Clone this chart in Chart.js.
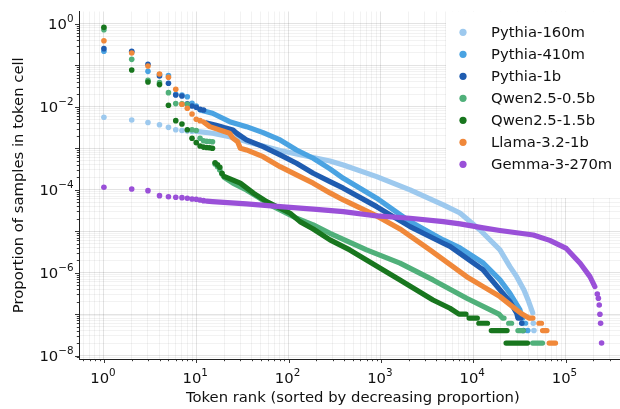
<!DOCTYPE html>
<html>
<head>
<meta charset="utf-8">
<script src="https://cdn.jsdelivr.net/npm/chart.js@4.4.1/dist/chart.umd.min.js"></script>
<style>
  html, body { margin: 0; padding: 0; background: #fff; overflow: hidden; }
  #wrap { width: 640px; height: 409px; }
</style>
</head>
<body>
<div id="wrap"><canvas id="rankChart" width="640" height="409"></canvas></div>
<script>
/* token rank vs. proportion, one series per model, log-log */
const models = ['Pythia-160m', 'Pythia-410m', 'Pythia-1b', 'Qwen2.5-0.5b', 'Qwen2.5-1.5b', 'Llama-3.2-1b', 'Gemma-3-270m'];
const colors = ['#9dc9ee', '#4aa3e2', '#1f5cb0', '#50b07a', '#18761e', '#f0883a', '#9a50d8'];

const xTitle = 'Token rank (sorted by decreasing proportion)';
const yTitle = 'Proportion of samples in token cell';
const xLabelDecades = [0, 1, 2, 3, 4, 5];
const yLabelDecades = [0, -2, -4, -6, -8];

// [rank, proportion]. *Dots are single markers, *Band is the dense stretch; null ends a run
const pythia160mDots = [[1, 0.0056], [2, 0.0048], [3, 0.0042], [4, 0.0037], [5, 0.0032], [6, 0.0028], [7, 0.0027], [8, 0.0026], [9, 0.00258], [44800, 6e-8], [45500, 4e-8]];
const pythia160mBand = [[10, 0.00255], [15, 0.00231], [23, 0.00191], [35, 0.00145], [53, 0.00114], [81, 0.000887], [122, 0.00073], [185, 0.0006], [281, 0.000495], [392, 0.000396], [901, 0.000207], [2070, 9.9e-5], [4740, 4.3e-5], [7190, 2.75e-5], [11850, 1.07e-5], [19500, 3.53e-6], [25000, 1.4e-6], [29600, 8.0e-7], [35500, 3.83e-7], [39300, 2.19e-7], [44150, 1.07e-7]];

const pythia410mDots = [[1, 0.219], [2, 0.21], [3, 0.072], [4, 0.06], [5, 0.0566], [6, 0.02], [7, 0.0194], [8, 0.0176], [9, 0.0122], [10, 0.0105], [39000, 4e-8]];
const pythia410mBand = [[11, 0.0084], [15, 0.007], [23, 0.0044], [35, 0.00333], [53, 0.00239], [81, 0.00159], [122, 0.000912], [185, 0.000575], [281, 0.000318], [392, 0.000189], [901, 6.24e-5], [2070, 1.7e-5], [4740, 6.15e-6], [7190, 3.94e-6], [12850, 1.71e-6], [19500, 6.67e-7], [25000, 3.18e-7], [32100, 1.26e-7], [33000, 1e-7], [34500, 8e-8], null, [35500, 6e-8], [37000, 6e-8]];

const pythia1bDots = [[1, 0.254], [2, 0.219], [3, 0.107], [4, 0.0557], [5, 0.037], [6, 0.0194], [7, 0.0183], [8, 0.0118], [9, 0.0105], [10, 0.0098], [11, 0.0087], [12, 0.0084], [33600, 6e-8], [35000, 4e-8]];
const pythia1bBand = [[13, 0.0041], [16, 0.00366], [20, 0.00316], [25, 0.00277], [27.4, 0.00231], [35, 0.00159], [53, 0.0011], [81, 0.000692], [122, 0.000436], [185, 0.00025], [281, 0.000157], [392, 0.000109], [901, 3.91e-5], [2070, 1.29e-5], [4740, 5.12e-6], [5600, 4.28e-6], [12850, 1.16e-6], [25000, 2.0e-7], [29600, 1.05e-7], [30500, 8e-8], [33000, 8e-8]];

const qwen05Dots = [[1, 0.73], [2, 0.14], [3, 0.044], [4, 0.0384], [5, 0.022], [6, 0.012], [7, 0.0118], [8, 0.0115], [9, 0.0028], [10, 0.0027], [11, 0.00175], [12, 0.00152], [13, 0.00148], [14, 0.00146], [15, 0.00144], [16, 0.00042], [17, 0.00036], [18, 0.0003], [19, 0.00024]];
const qwen05Band = [[20, 0.0002], [25, 0.000144], [35, 9.9e-5], [49, 6.24e-5], [63, 4.3e-5], [81, 3.26e-5], [122, 2.05e-5], [185, 1.42e-5], [281, 8.9e-6], [700, 3.53e-6], [1610, 1.69e-6], [3670, 6.67e-7], [8500, 2.41e-7], [15300, 1.26e-7], [19000, 1e-7], [20800, 8e-8], [21600, 8e-8], null, [24200, 6e-8], [26100, 6e-8], null, [30500, 4e-8], [35000, 4e-8], null, [44000, 2e-8], [56400, 2e-8]];

const qwen15Dots = [[1, 0.83], [2, 0.0776], [3, 0.0399], [4, 0.0344], [5, 0.0109], [6, 0.00465], [7, 0.00386], [8, 0.0028], [9, 0.00175], [10, 0.00137], [11, 0.00114], [12, 0.00107], [13, 0.00105], [14, 0.00103], [15, 0.001], [16, 0.00045], [17, 0.0004], [18, 0.00035], [19, 0.00025]];
const qwen15Band = [[20, 0.00021], [30, 0.000144], [42, 8.2e-5], [58, 5.16e-5], [81, 3.58e-5], [104, 2.71e-5], [133, 1.7e-5], [185, 1.13e-5], [281, 6.15e-6], [460, 3.53e-6], [1610, 6.67e-7], [3670, 2.19e-7], [5600, 1.38e-7], [7010, 1e-7], [8360, 1e-7], null, [9020, 8e-8], [11100, 8e-8], null, [11500, 6e-8], [14300, 6e-8], null, [15700, 4e-8], [23300, 4e-8], null, [22700, 2e-8], [38800, 2e-8]];

const llamaDots = [[1, 0.395], [2, 0.2], [3, 0.097], [4, 0.0622], [5, 0.0517], [6, 0.0266], [7, 0.0116], [8, 0.00925], [9, 0.00675], [10, 0.005], [11, 0.00465]];
const llamaBand = [[12, 0.00432], [14, 0.00333], [23, 0.00231], [25, 0.00175], [28, 0.00145], [30, 0.001], [35, 0.000912], [53, 0.000629], [81, 0.000361], [122, 0.000228], [185, 0.000144], [281, 8.4e-5], [392, 5.68e-5], [901, 2.33e-5], [1610, 1.13e-5], [3400, 3.53e-6], [8500, 8.0e-7], [12850, 4.6e-7], [19500, 2.64e-7], [29600, 1.26e-7], [33800, 1e-7], [40200, 8e-8], [44400, 8e-8], null, [51500, 6e-8], [55000, 6e-8], null, [56400, 4e-8], [63000, 4e-8], null, [66500, 2e-8], [78000, 2e-8]];

const gemmaDots = [[1, 1.15e-4], [2, 1.045e-4], [3, 9.5e-5], [4, 7.2e-5], [5, 6.8e-5], [6, 6.6e-5], [7, 6.45e-5], [8, 6.24e-5], [9, 6.0e-5], [10, 5.9e-5], [11, 5.68e-5], [12, 5.46e-5], [221000, 3.06e-7], [227000, 2.41e-7], [232000, 1.66e-7], [236000, 9.9e-8], [240000, 6e-8], [246000, 2e-8]];
const gemmaBand = [[13, 5.3e-5], [15, 5.16e-5], [35, 4.54e-5], [81, 3.91e-5], [185, 3.39e-5], [392, 2.96e-5], [901, 2.33e-5], [2070, 2.05e-5], [4740, 1.7e-5], [7190, 1.5e-5], [12850, 1.2e-5], [19500, 1.04e-5], [44800, 8.1e-6], [67500, 6.0e-6], [102000, 3.84e-6], [144000, 1.69e-6], [184000, 8.0e-7], [208000, 4.6e-7]];

const seriesDots = [pythia160mDots, pythia410mDots, pythia1bDots, qwen05Dots, qwen15Dots, llamaDots, gemmaDots];
const seriesBand = [pythia160mBand, pythia410mBand, pythia1bBand, qwen05Band, qwen15Band, llamaBand, gemmaBand];

const X_MIN = 0.537, X_MAX = 459000;
const Y_MIN = Math.pow(10, -8.084), Y_MAX = Math.pow(10, 0.301);
const FONT = 'DejaVu Sans';
const FS = 14.8;
const SUP_FS = FS * 0.7;

function toPoints(pairs) {
  const out = [];
  let lastX = 1;
  pairs.forEach(p => {
    if (p === null) { out.push({x: lastX, y: null}); return; }
    out.push({x: p[0], y: p[1]});
    lastX = p[0];
  });
  return out;
}

// 1..9 x 10^k ticks inside [lo, hi]
function logTicks(lo, hi) {
  const ticks = [];
  for (let k = Math.floor(Math.log10(lo)); k <= Math.ceil(Math.log10(hi)); k++) {
    for (let m = 1; m <= 9; m++) {
      const v = m * Math.pow(10, k);
      if (v >= lo && v <= hi) ticks.push({value: v, major: m === 1, exp: k});
    }
  }
  return ticks;
}

const datasets = [];
models.forEach((name, i) => {
  const order = models.length - i; // later models sit on top
  datasets.push({
    label: name,
    data: toPoints(seriesBand[i]),
    showLine: true,
    spanGaps: false,
    borderColor: colors[i],
    borderWidth: 5.2,
    borderCapStyle: 'round',
    borderJoinStyle: 'round',
    pointRadius: 0,
    order
  });
  datasets.push({
    label: name,
    data: toPoints(seriesDots[i]),
    showLine: false,
    pointRadius: 2.8,
    pointBorderWidth: 0,
    pointBackgroundColor: colors[i],
    order
  });
});

const gridColor = c => c.tick && c.tick.major ? 'rgba(0,0,0,0.11)' : 'rgba(0,0,0,0.05)';

// "10" plus a raised, smaller exponent; returns total width
function powerLabel(ctx, exp, x, baseline, align) {
  const base = '10';
  const sup = String(exp).replace('-', '\u2212');
  ctx.font = FS + 'px "' + FONT + '"';
  const wb = ctx.measureText(base).width;
  ctx.font = SUP_FS + 'px "' + FONT + '"';
  const ws = ctx.measureText(sup).width;
  const left = align === 'right' ? x - wb - ws : x - (wb + ws) / 2;
  ctx.font = FS + 'px "' + FONT + '"';
  ctx.fillText(base, left, baseline);
  ctx.font = SUP_FS + 'px "' + FONT + '"';
  ctx.fillText(sup, left + wb, baseline - FS * 0.45);
}

// short outward tick marks (longer at each decade) and the power-of-ten labels
const axisDecor = {
  id: 'axisDecor',
  afterDraw(chart) {
    const {ctx, chartArea} = chart;
    const xs = chart.scales.x, ys = chart.scales.y;
    ctx.save();
    ctx.strokeStyle = '#222';
    ctx.lineWidth = 0.9;
    xs.ticks.forEach(t => {
      const px = Math.round(xs.getPixelForValue(t.value)) + 0.5;
      ctx.beginPath();
      ctx.moveTo(px, chartArea.bottom);
      ctx.lineTo(px, chartArea.bottom + (t.major ? 4 : 2.2));
      ctx.stroke();
    });
    ys.ticks.forEach(t => {
      const py = Math.round(ys.getPixelForValue(t.value)) + 0.5;
      ctx.beginPath();
      ctx.moveTo(chartArea.left, py);
      ctx.lineTo(chartArea.left - (t.major ? 4 : 2.2), py);
      ctx.stroke();
    });
    ctx.fillStyle = '#111';
    ctx.textBaseline = 'alphabetic';
    ctx.textAlign = 'left';
    xs.ticks.filter(t => t.major && xLabelDecades.includes(t.exp)).forEach(t => {
      powerLabel(ctx, t.exp, xs.getPixelForValue(t.value) - 1, chartArea.bottom + 23.7, 'center');
    });
    ys.ticks.filter(t => t.major && yLabelDecades.includes(t.exp)).forEach(t => {
      powerLabel(ctx, t.exp, chartArea.left - 5.5, ys.getPixelForValue(t.value) + 5, 'right');
    });
    ctx.restore();
  }
};

// legend box in the upper right of the plot
const cornerLegend = {
  id: 'cornerLegend',
  afterDraw(chart) {
    const {ctx, chartArea} = chart;
    ctx.save();
    ctx.fillStyle = '#fff';
    ctx.fillRect(446, chartArea.top, chart.width - 446, 198 - chartArea.top);
    ctx.font = FS + 'px "' + FONT + '"';
    ctx.textBaseline = 'middle';
    ctx.textAlign = 'left';
    models.forEach((name, i) => {
      const y = 32.3 + 22 * i;
      ctx.fillStyle = colors[i];
      ctx.beginPath();
      ctx.arc(463, y, 3.6, 0, Math.PI * 2);
      ctx.fill();
      ctx.fillStyle = '#111';
      ctx.fillText(name, 491, y + 0.5);
    });
    ctx.restore();
  }
};

new Chart(document.getElementById('rankChart'), {
  type: 'scatter',
  data: { datasets },
  options: {
    responsive: false,
    devicePixelRatio: 1,
    animation: false,
    events: [],
    layout: { padding: { left: 0, right: 640 - 626.6, top: 11.5, bottom: 0 } },
    plugins: { legend: { display: false }, tooltip: { enabled: false } },
    scales: {
      x: {
        type: 'logarithmic',
        min: X_MIN,
        max: X_MAX,
        afterBuildTicks: s => { s.ticks = logTicks(X_MIN, X_MAX); },
        afterFit: s => { s.height = 50; s.paddingLeft = 0; s.paddingRight = 0; },
        ticks: { display: false, autoSkip: false },
        grid: { color: gridColor, lineWidth: 1, drawTicks: false },
        border: { display: true, color: '#222', width: 1 },
        title: { display: true, text: xTitle, color: '#111', font: { family: FONT, size: FS }, padding: { top: 0, bottom: 1.9 } }
      },
      y: {
        type: 'logarithmic',
        min: Y_MIN,
        max: Y_MAX,
        afterBuildTicks: s => { s.ticks = logTicks(Y_MIN, Y_MAX); },
        afterFit: s => { s.width = 79; s.paddingTop = 0; s.paddingBottom = 0; },
        ticks: { display: false, autoSkip: false },
        grid: { color: gridColor, lineWidth: 1, drawTicks: false },
        border: { display: true, color: '#222', width: 1 },
        title: { display: true, text: yTitle, color: '#111', font: { family: FONT, size: FS }, padding: { top: 10.4, bottom: 0 } }
      }
    }
  },
  plugins: [axisDecor, cornerLegend]
});
</script>
</body>
</html>
